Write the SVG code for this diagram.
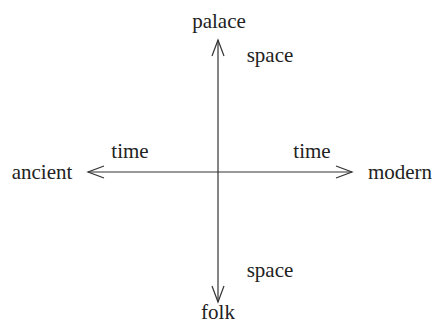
<svg xmlns="http://www.w3.org/2000/svg" width="433" height="328" viewBox="0 0 433 328">
<style>
.t{font-family:"Liberation Serif",serif;font-size:21px;fill:#222}
.l{stroke:#333;stroke-width:1.2;fill:none}
</style>
<rect width="433" height="328" fill="#fff"/>
<g id="connectors">
<line class="l" x1="218" y1="40" x2="218" y2="302"/>
<line class="l" x1="88" y1="172" x2="352" y2="172"/>
<polyline class="l" points="212,56 218,40 224,56"/>
<polyline class="l" points="212,286 218,302 224,286"/>
<polyline class="l" points="104,166 88,172 104,178"/>
<polyline class="l" points="336,166 352,172 336,178"/>
</g>
<g id="palace"><text class="t" x="219" y="28" text-anchor="middle">palace</text></g>
<g id="folk"><text class="t" x="218" y="319" text-anchor="middle">folk</text></g>
<g id="ancient"><text class="t" x="42" y="179" text-anchor="middle">ancient</text></g>
<g id="modern"><text class="t" x="400" y="179" text-anchor="middle">modern</text></g>
<g id="labels">
<text class="t" x="270" y="62" text-anchor="middle">space</text>
<text class="t" x="270" y="277" text-anchor="middle">space</text>
<text class="t" x="130" y="158" text-anchor="middle">time</text>
<text class="t" x="312" y="158" text-anchor="middle">time</text>
</g>
</svg>
